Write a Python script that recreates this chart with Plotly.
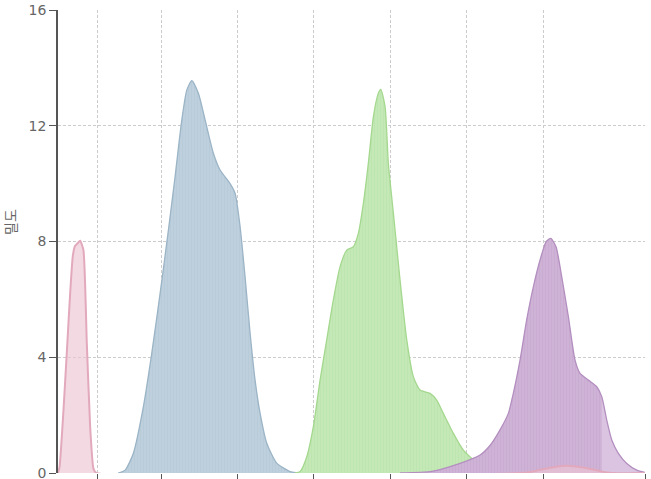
import plotly.graph_objects as go

# ---- data (density curves) ----
pink_x = [-0.35, -0.33, -0.28, -0.234, -0.191, -0.156, -0.126, -0.09, -0.06, -0.017, 0.027, 0.071, 0.114, 0.15,
          5.70, 5.87, 6.03, 6.29, 6.55, 6.75, 6.90, 7.335]
pink_y = [0, 0.2, 2.1, 4.2, 6.2, 7.5, 7.85, 7.95, 8.03, 7.7, 4.5, 1.6, 0.15, 0,
          0, 0.05, 0.15, 0.25, 0.18, 0.06, 0, 0]

blue_x = [0.437, 0.529, 0.637, 0.768, 0.878, 0.987, 1.096, 1.183, 1.271, 1.336, 1.402, 1.488, 1.576, 1.684,
          1.772, 1.903, 1.969, 2.034, 2.099, 2.165, 2.230, 2.296, 2.383, 2.514, 2.688, 2.82]
blue_y = [0, 0.1, 0.68, 2.29, 4.14, 6.21, 8.4, 10.24, 12.2, 13.23, 13.56, 13.12, 12.2, 11.05,
          10.47, 10.0, 9.66, 8.51, 6.78, 4.83, 3.21, 2.06, 1.03, 0.34, 0.05, 0]

green_x = [2.754, 2.82, 2.907, 2.993, 3.081, 3.168, 3.255, 3.343, 3.430, 3.517, 3.582, 3.648, 3.713, 3.779,
           3.844, 3.876, 3.932, 3.975, 4.041, 4.128, 4.216, 4.302, 4.390, 4.521, 4.608, 4.695, 4.826,
           4.957, 5.088, 5.219, 5.372, 5.50]
green_y = [0, 0.05, 0.56, 1.6, 3.21, 4.6, 5.98, 7.13, 7.7, 7.82, 8.28, 9.32, 10.7, 12.31,
           13.12, 13.26, 12.66, 10.7, 8.97, 6.67, 4.6, 3.33, 2.87, 2.75, 2.52, 2.06, 1.37,
           0.79, 0.45, 0.16, 0.03, 0]

purple_x = [4.128, 4.521, 4.652, 4.914, 5.176, 5.306, 5.437, 5.546, 5.611, 5.699, 5.786, 5.874, 5.961, 6.040,
            6.101, 6.170, 6.245, 6.332, 6.419, 6.485, 6.593, 6.703, 6.769, 6.834, 6.900, 6.986, 7.096,
            7.227, 7.335]
purple_y = [0, 0.05, 0.12, 0.33, 0.62, 0.95, 1.49, 2.06, 2.75, 3.9, 5.29, 6.44, 7.36, 7.99,
            8.11, 7.82, 6.78, 5.4, 3.9, 3.44, 3.21, 2.98, 2.64, 1.83, 1.14, 0.68, 0.33,
            0.1, 0.02]
purple_stripe_end = 6.77

x_ticks = [0.162, 1, 2, 3, 4, 5, 6, 7.335]
y_ticks = [0, 4, 8, 12, 16]

fig = go.Figure()


def striped(x, y, line_color, fg, bg, width=1.3, show_line=True):
    return go.Scatter(
        x=x, y=y, mode="lines", fill="tozeroy",
        line=dict(color=line_color, width=width if show_line else 0, shape="spline", smoothing=0.6),
        fillcolor=bg,
        fillpattern=dict(shape="|", fgcolor=fg, bgcolor=bg, size=3, solidity=0.72),
        hoverinfo="skip", showlegend=False,
    )


# blue
fig.add_trace(striped(blue_x, blue_y, "#9bb4c6", "#a6bece", "#c8d8e3"))
# green
fig.add_trace(striped(green_x, green_y, "#a5d88f", "#aedf9d", "#cdebc0"))
# purple: light full area, striped part, then outline
fig.add_trace(go.Scatter(x=purple_x, y=purple_y, mode="lines", fill="tozeroy",
                         line=dict(width=0, shape="spline", smoothing=0.6), fillcolor="#dbc4e1",
                         hoverinfo="skip", showlegend=False))
px_sub = [v for v in purple_x if v <= purple_stripe_end]
py_sub = [purple_y[i] for i, v in enumerate(purple_x) if v <= purple_stripe_end]
fig.add_trace(striped(px_sub, py_sub, "#b995c3", "#be9ac8", "#d6bddd", show_line=False))
fig.add_trace(go.Scatter(x=purple_x, y=purple_y, mode="lines",
                         line=dict(color="#b38fbf", width=1.3, shape="spline", smoothing=0.6),
                         hoverinfo="skip", showlegend=False))
# pink
fig.add_trace(go.Scatter(x=pink_x, y=pink_y, mode="lines", fill="tozeroy",
                         line=dict(color="#e2a9bd", width=2, shape="spline", smoothing=0.5),
                         fillcolor="rgba(236,196,210,0.65)",
                         hoverinfo="skip", showlegend=False))

fig.update_layout(
    width=651, height=479,
    margin=dict(l=58, r=6, t=10, b=6, autoexpand=False),
    paper_bgcolor="white", plot_bgcolor="white",
    font=dict(family="DejaVu Sans, Verdana, sans-serif", size=14, color="#666"),
    showlegend=False,
    xaxis=dict(
        range=[-0.35, 7.335], tickvals=x_ticks, showticklabels=False, automargin=False,
        ticks="outside", ticklen=6, tickcolor="#555", tickwidth=1,
        showgrid=True, gridcolor="#cccccc", griddash="3px,2px", gridwidth=1,
        showline=False, zeroline=False, fixedrange=True,
    ),
    yaxis=dict(
        range=[0, 16], tickvals=y_ticks, automargin=False, ticklabeloverflow="allow",
        ticks="outside", ticklen=7, tickcolor="#555", tickwidth=1,
        showgrid=True, gridcolor="#cccccc", griddash="3px,2px", gridwidth=1,
        showline=True, linecolor="#555", linewidth=1.5, zeroline=False,
        tickfont=dict(size=14, color="#666"), fixedrange=True,
    ),
)

fig.add_annotation(
    text="밀도", textangle=-90, xref="paper", yref="paper",
    x=-0.082, y=0.542, xanchor="center", yanchor="middle", showarrow=False,
    font=dict(family="Noto Sans CJK KR", size=14, color="#666"),
)

fig.write_html(
    "out.html",
    config={"displayModeBar": False},
    post_script="document.body.style.margin='0';document.body.style.overflow='hidden';",
)
